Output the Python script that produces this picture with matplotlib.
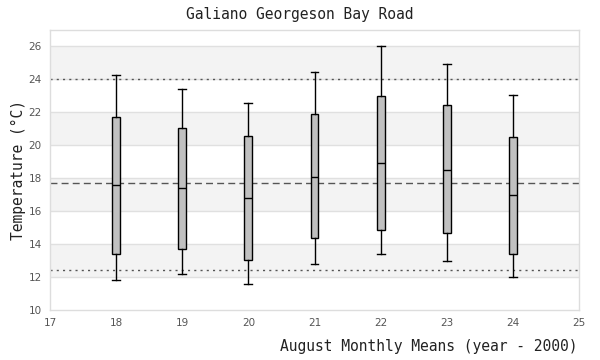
import matplotlib
matplotlib.use("Agg")
import matplotlib.pyplot as plt

years = [18, 19, 20, 21, 22, 23, 24]
whisker_low = [11.8, 12.16, 11.56, 12.77, 13.37, 12.97, 11.98]
q1 = [13.37, 13.68, 13.01, 14.35, 14.83, 14.67, 13.37]
median = [17.56, 17.38, 16.83, 18.10, 18.95, 18.53, 16.97]
q3 = [21.74, 21.07, 20.59, 21.92, 23.01, 22.47, 20.53]
whisker_high = [24.28, 23.44, 22.59, 24.47, 26.0, 24.95, 23.07]
ref_upper = 24.05
ref_mean = 17.74
ref_lower = 12.41
x_ticks = [17, 18, 19, 20, 21, 22, 23, 24, 25]
y_ticks = [10, 12, 14, 16, 18, 20, 22, 24, 26]

mono = "DejaVu Sans Mono"

fig = plt.figure(figsize=(6, 3.6), dpi=100)
ax = fig.add_axes([50/600, 1-310/360, (579-50)/600, (310-30)/360])
ax.set_xlim(17, 25)
ax.set_ylim(10, 27)

# alternating bands
for i in range(len(y_ticks) - 1):
    if i % 2 == 1:
        ax.axhspan(y_ticks[i], y_ticks[i+1], color="#f3f3f3", zorder=0, lw=0)
for y in y_ticks[1:]:
    ax.axhline(y, color="#e0e0e0", lw=1, zorder=0.5)

ax.axhline(ref_upper, color="#555555", lw=1, ls=(0, (1.5, 3)), zorder=1)
ax.axhline(ref_lower, color="#555555", lw=1, ls=(0, (1.5, 3)), zorder=1)
ax.axhline(ref_mean, color="#555555", lw=1, ls=(0, (5, 3)), zorder=1)

stats = []
for i in range(len(years)):
    stats.append(dict(whislo=whisker_low[i], q1=q1[i], med=median[i],
                      q3=q3[i], whishi=whisker_high[i], fliers=[]))
ax.bxp(stats, positions=years, widths=0.12, patch_artist=True, showfliers=False,
       manage_ticks=False,
       boxprops=dict(facecolor="#c0c0c0", edgecolor="black", lw=1),
       medianprops=dict(color="black", lw=1),
       whiskerprops=dict(color="black", lw=1),
       capprops=dict(color="black", lw=1),
       capwidths=0.12, zorder=3)

ax.set_xticks(x_ticks)
ax.set_yticks(y_ticks)
ax.tick_params(length=0, labelsize=7.5, labelcolor="#555555", pad=6)
for s in ax.spines.values():
    s.set_color("#dddddd")
    s.set_linewidth(1)

fig.text(0.5, 1-14/360, "Galiano Georgeson Bay Road", ha="center", va="center",
         fontsize=10.5, family=mono, color="#222222")
fig.text(578/600, 1-347/360, "August Monthly Means (year - 2000)", ha="right",
         va="center", fontsize=10.5, family=mono, color="#222222")
fig.text(18/600, 1-170/360, "Temperature (°C)", ha="center", va="center",
         rotation=90, fontsize=10.5, family=mono, color="#222222")

fig.savefig("out.png", dpi=100)
